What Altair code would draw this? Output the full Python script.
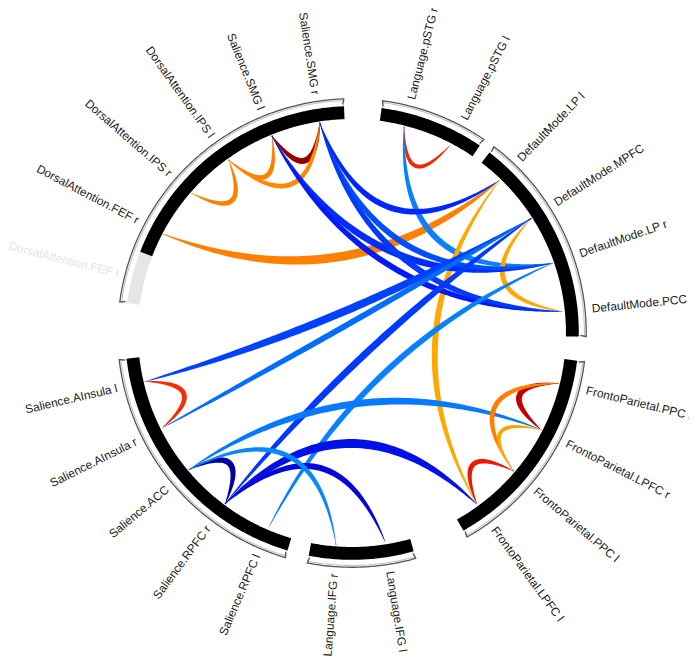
import math
import numpy as np
import pandas as pd
import altair as alt

# ---------------- data ----------------
group_nodes = [
    ["Language.pSTG r", "Language.pSTG l"],
    ["DefaultMode.LP l", "DefaultMode.MPFC", "DefaultMode.LP r", "DefaultMode.PCC"],
    ["FrontoParietal.PPC r", "FrontoParietal.LPFC r", "FrontoParietal.PPC l", "FrontoParietal.LPFC l"],
    ["Language.IFG l", "Language.IFG r"],
    ["Salience.RPFC l", "Salience.RPFC r", "Salience.ACC", "Salience.AInsula r", "Salience.AInsula l"],
    ["DorsalAttention.FEF l", "DorsalAttention.FEF r", "DorsalAttention.IPS r",
     "DorsalAttention.IPS l", "Salience.SMG l", "Salience.SMG r"],
]
inactive_nodes = ["DorsalAttention.FEF l"]

link_from = [
    "Salience.SMG l", "DorsalAttention.IPS r", "DorsalAttention.IPS l", "DorsalAttention.IPS l",
    "DorsalAttention.FEF r", "Language.pSTG r", "Language.pSTG r", "DefaultMode.LP l",
    "DefaultMode.MPFC", "Salience.SMG l", "Salience.SMG l", "Salience.SMG r",
    "Salience.SMG r", "Salience.SMG r", "DefaultMode.MPFC", "DefaultMode.MPFC",
    "DefaultMode.MPFC", "DefaultMode.LP r", "Salience.AInsula l", "Salience.ACC",
    "Salience.RPFC r", "Salience.RPFC r", "Language.IFG r", "Salience.ACC",
    "FrontoParietal.PPC r", "FrontoParietal.PPC r", "FrontoParietal.LPFC r", "FrontoParietal.PPC l",
]
link_to = [
    "Salience.SMG r", "DorsalAttention.IPS l", "Salience.SMG l", "Salience.SMG r",
    "DefaultMode.LP l", "Language.pSTG l", "DefaultMode.LP r", "FrontoParietal.LPFC l",
    "DefaultMode.PCC", "DefaultMode.LP r", "DefaultMode.PCC", "DefaultMode.LP r",
    "DefaultMode.PCC", "DefaultMode.LP l", "Salience.AInsula l", "Salience.AInsula r",
    "Salience.RPFC r", "Salience.RPFC l", "Salience.AInsula r", "Salience.RPFC r",
    "FrontoParietal.LPFC l", "Language.IFG l", "Salience.ACC", "FrontoParietal.LPFC r",
    "FrontoParietal.LPFC r", "FrontoParietal.PPC l", "FrontoParietal.PPC l", "FrontoParietal.LPFC l",
]
link_t = [
    6.8, 4.2, 4.2, 4.1,
    4.2, 5.4, -3.5, 3.5,
    3.5, -4.8, -5.2, -4.3,
    -4.6, -4.9, -4.5, -3.8,
    -4.6, -3.5, 5.3, -6.6,
    -5.5, -5.8, -3.4, -3.6,
    6.3, 4.2, 3.6, 5.6,
]
link_weight = [
    6, 5, 5, 5,
    9, 4, 6, 6,
    5, 7, 6, 6,
    6, 6, 8, 6,
    7, 6, 5, 6,
    9, 6, 5, 7,
    6, 5, 4, 5,
]

cmap_values = [-7, -6, -5, -4, -3, 3, 4, 5, 6, 7]
cmap_colors = ["#00007f", "#0000d0", "#0020ff", "#0060ff", "#10a0ff",
               "#ffc000", "#ff9000", "#ff4000", "#e00000", "#800000"]

# ---------------- layout ----------------
W, H = 689, 650
CX, CY = 348, 325
R_ARC, ARC_W = 223, 13
R_LINK = 215
R_BRACKET = 237
R_LABEL = 244
GROUP_START = [7.5, 37.3, 97.0, 164.2, 196.5, 277.6]
NODE_SPAN = 13.4


def pos(theta, r):
    a = math.radians(theta)
    return CX + r * math.sin(a), CY - r * math.cos(a)


node_theta = {}
for start, names in zip(GROUP_START, group_nodes):
    for k, n in enumerate(names):
        node_theta[n] = start + NODE_SPAN * (k + 0.5)

# arcs (runs of active / inactive nodes)
rows = []
seg = 0
for start, names in zip(GROUP_START, group_nodes):
    k = 0
    while k < len(names):
        act = names[k] not in inactive_nodes
        j = k
        while j + 1 < len(names) and (names[j + 1] not in inactive_nodes) == act:
            j += 1
        t0 = start + NODE_SPAN * k
        t1 = start + NODE_SPAN * (j + 1)
        npts = max(2, int((t1 - t0) / 0.5) + 1)
        for i, th in enumerate(np.linspace(t0, t1, npts)):
            x, y = pos(th, R_ARC)
            rows.append(dict(seg=seg, i=i, x=x, y=y, active=int(act)))
        seg += 1
        k = j + 1
arc_df = pd.DataFrame(rows)

# brackets
rows = []
for g, (start, names) in enumerate(zip(GROUP_START, group_nodes)):
    t0 = start
    t1 = start + NODE_SPAN * len(names)
    for layer, rr in enumerate([R_BRACKET - 1.8, R_BRACKET]):
        pts = [(t0 + 0.3, rr - 5)]
        pts += [(th, rr) for th in np.linspace(t0, t1, max(2, int((t1 - t0) / 0.5) + 1))]
        pts += [(t1 - 0.3, rr - 5)]
        for i, (th, r) in enumerate(pts):
            x, y = pos(th, r)
            rows.append(dict(seg=f"{g}_{layer}", i=i, x=x, y=y, layer=layer))
br_df = pd.DataFrame(rows)

# links
rows = []
for li, (a, b, v, w) in enumerate(zip(link_from, link_to, link_t, link_weight)):
    ta, tb = math.radians(node_theta[a]), math.radians(node_theta[b])
    ua = np.array([math.sin(ta), -math.cos(ta)])
    ub = np.array([math.sin(tb), -math.cos(tb)])
    d = math.degrees(math.acos(float(np.clip(ua @ ub, -1, 1))))
    m = ua + ub
    nm = np.linalg.norm(m)
    m = m / nm if nm > 1e-9 else np.array([0.0, 0.0])
    f = 0.88 * math.exp(-d / 55.0)
    A = np.array(pos(node_theta[a], R_LINK))
    B = np.array(pos(node_theta[b], R_LINK))
    C = np.array([CX, CY]) + f * R_LINK * m
    for i, t in enumerate(np.linspace(0, 1, 81)):
        P = (1 - t) ** 2 * A + 2 * t * (1 - t) * C + t ** 2 * B
        size = w * math.sin(math.pi * t) ** 0.7
        rows.append(dict(link=li, i=i, x=P[0], y=P[1], size=size, t=v))
link_df = pd.DataFrame(rows)

# labels
rows = []
for n, th in node_theta.items():
    x, y = pos(th, R_LABEL)
    right = th < 180
    ang = (th - 90) if right else (th - 270)
    rows.append(dict(label=n, x=x, y=y, angle=ang % 360, side="R" if right else "L",
                     active=int(n not in inactive_nodes)))
lab_df = pd.DataFrame(rows)

xs = alt.Scale(domain=[0, W], range=[0, W], nice=False, zero=False)
ys = alt.Scale(domain=[0, H], range=[0, H], nice=False, zero=False)
X = alt.X("x:Q", scale=xs, axis=None)
Y = alt.Y("y:Q", scale=ys, axis=None)


def line_layer(df, cond, color, width, cap):
    return alt.Chart(df).transform_filter(cond).mark_line(
        color=color, strokeWidth=width, strokeCap=cap).encode(
        x=X, y=Y, order="i:Q", detail="seg:N")


br_shadow = line_layer(br_df, alt.datum.layer == 0, "#c8c8c8", 1.2, "round")
br_main = line_layer(br_df, alt.datum.layer == 1, "#555555", 1.3, "round")
arcs_black = line_layer(arc_df, alt.datum.active == 1, "#000000", ARC_W, "butt")
arcs_gray = line_layer(arc_df, alt.datum.active == 0, "#e6e6e6", ARC_W, "butt")

links = alt.Chart(link_df).mark_trail().encode(
    x=X, y=Y, order="i:Q", detail="link:N",
    size=alt.Size("size:Q", scale=None),
    color=alt.Color("t:Q", scale=alt.Scale(domain=cmap_values, range=cmap_colors,
                                           interpolate="rgb"), legend=None))


def label_layer(cond, align, color):
    return alt.Chart(lab_df).transform_filter(cond).mark_text(
        align=align, baseline="middle", font="Liberation Sans", fontSize=12, color=color).encode(
        x=X, y=Y, text="label:N", angle=alt.Angle("angle:Q", scale=None))


labels = [
    label_layer((alt.datum.side == "R") & (alt.datum.active == 1), "left", "#222222"),
    label_layer((alt.datum.side == "L") & (alt.datum.active == 1), "right", "#222222"),
    label_layer((alt.datum.side == "L") & (alt.datum.active == 0), "right", "#e4e4e4"),
]

chart = alt.layer(br_shadow, br_main, arcs_gray, arcs_black, links, *labels).properties(
    width=W, height=H, padding=0, autosize=alt.AutoSizeParams(type="none")
).configure_view(strokeWidth=0)

chart.save("out.html", embed_options={"renderer": "svg", "actions": False})
